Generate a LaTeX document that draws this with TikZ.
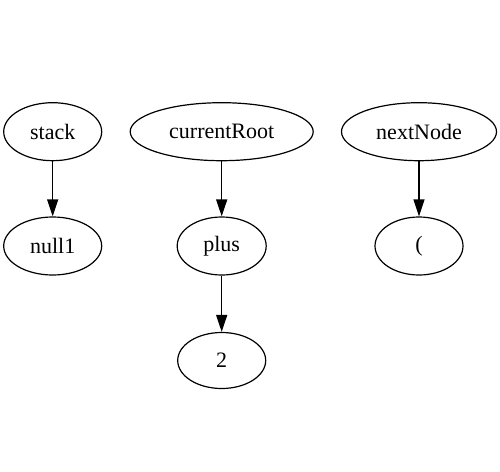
\documentclass[tikz,border=0pt]{standalone}
\usepackage{fontspec}
\setmainfont{Liberation Serif}
\usetikzlibrary{shapes.geometric,arrows.meta}
\begin{document}
\begin{tikzpicture}[x=1pt,y=-1pt,
  vnode/.style={draw, ellipse, line width=1.2pt, inner sep=0pt,
    minimum height=58pt, font=\fontsize{22}{26}\selectfont},
  link/.style={line width=1.2pt, -{Triangle[length=17pt,width=11pt]}}]
  \useasboundingbox (0,0) rectangle (500,471);
  % first column
  \node[vnode, minimum width=98pt]  (stack) at (52.7,131.7) {stack};
  \node[vnode, minimum width=98pt]  (null1) at (52.7,246) {null1};
  % second column
  \node[vnode, minimum width=183pt] (cur)   at (221.7,131.7) {currentRoot};
  \node[vnode, minimum width=89pt]  (plus)  at (221.7,246) {plus};
  \node[vnode, minimum width=88pt, minimum height=56pt] (two) at (221.7,360.5) {2};
  % third column
  \node[vnode, minimum width=155pt] (next)  at (419,131.7) {nextNode};
  \node[vnode, minimum width=88pt]  (paren) at (419,246) {(};
  % pointers
  \draw[link] (stack) -- (null1);
  \draw[link] (cur) -- (plus);
  \draw[link] (plus) -- (two);
  \draw[link] (next) -- (paren);
\end{tikzpicture}
\end{document}
